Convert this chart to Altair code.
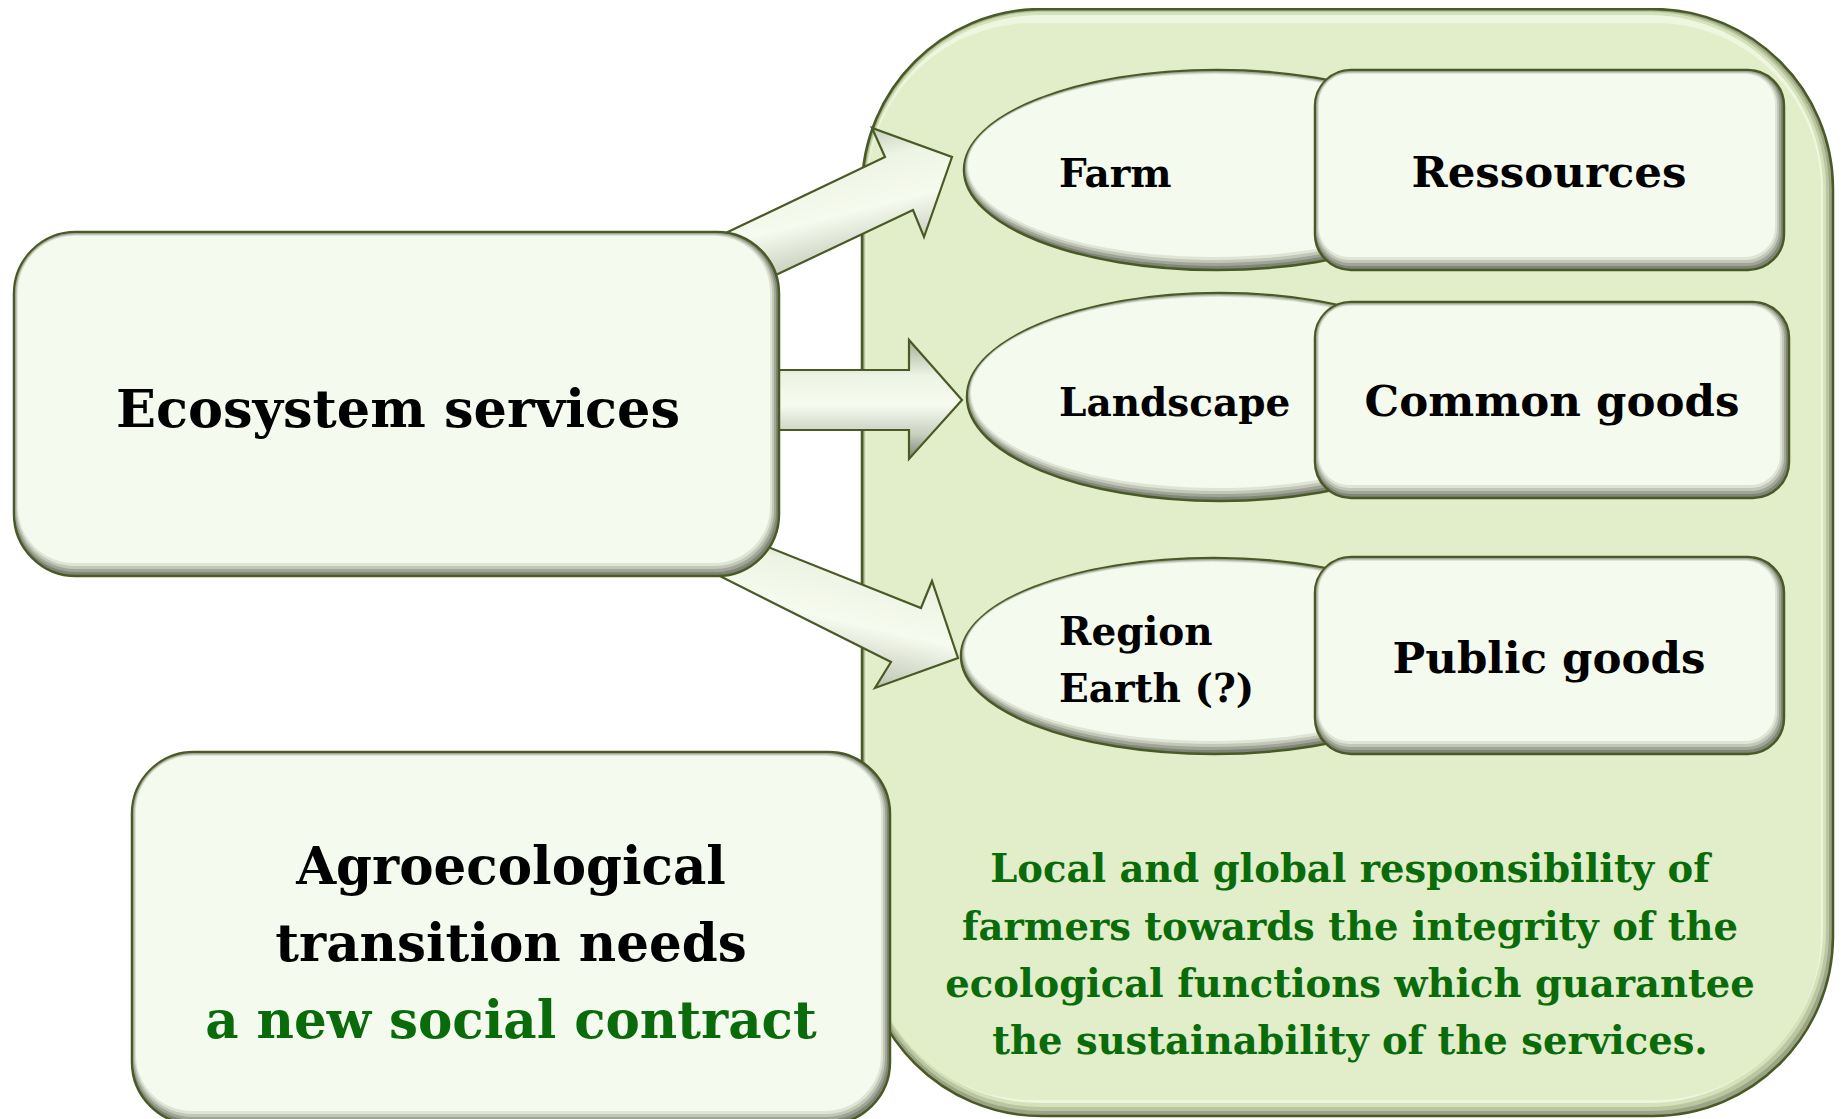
import altair as alt
import pandas as pd

# ---------------- reference geometry (reference pixel units) ----------------
REF_W, REF_H = 1843, 1119
MARGIN = 8
WIDTH = REF_W - 2 * MARGIN     # keep within the page width (no css down-scaling)
HEIGHT = REF_H - MARGIN
K = 1.0

# big green panel  (x1, y1, x2, y2, radius)
panel = [862, 9, 1833, 1116, 180]

# light boxes
box_names = ["Ecosystem", "Agro", "Ressources", "Common", "Public"]
box_x1 = [14, 132, 1315, 1315, 1315]
box_y1 = [232, 752, 70, 302, 557]
box_x2 = [779, 890, 1784, 1789, 1784]
box_y2 = [576, 1124, 270, 498, 754]
box_r = [62, 62, 36, 36, 36]

# ellipses
ell_cx = [1217, 1220, 1214]
ell_cy = [170, 397, 656]
ell_rx = [253, 253, 253]
ell_ry = [100, 104, 98]

# arrows (polygon vertices)
arrow_top_x = [690, 885, 872, 952, 924, 913, 740]
arrow_top_y = [250, 157, 128, 157, 237, 210, 292]
arrow_mid_x = [740, 909, 909, 962, 909, 909, 740]
arrow_mid_y = [370, 370, 340, 400, 459, 430, 430]
arrow_bot_x = [700, 921, 932, 958, 875, 891, 660]
arrow_bot_y = [520, 608, 581, 658, 688, 662, 546]

# texts
eco_text = ["Ecosystem services"]
eco_tx, eco_ty = [398], [427]
ell_text = ["Farm", "Landscape", "Region", "Earth (?)"]
ell_tx = [1059, 1059, 1059, 1059]
ell_ty = [187, 416, 645, 702]
goods_text = ["Ressources", "Common goods", "Public goods"]
goods_tx = [1549, 1552, 1549]
goods_ty = [187, 416, 673]
resp_text = ["Local and global responsibility of",
             "farmers towards the integrity of the",
             "ecological functions which guarantee",
             "the sustainability of the services."]
resp_tx = [1350, 1350, 1350, 1350]
resp_ty = [882, 940, 997, 1054]
agro_text = ["Agroecological", "transition needs", "a new social contract"]
agro_tx = [511, 511, 511]
agro_ty = [884, 961, 1038]
agro_col = ["#000000", "#000000", "#0a6b0a"]

# ---------------- styles ----------------
OUTLINE = "#4a5a26"
BOX_LIGHT = "#f4faed"
PANEL_FILL = "#e1eec9"
GREEN_TEXT = "#0a6b0a"
FONT = "DejaVu Serif"

xs = alt.Scale(domain=[MARGIN, MARGIN + WIDTH], range=[0, WIDTH], nice=False, zero=False)
ys = alt.Scale(domain=[MARGIN, MARGIN + HEIGHT], range=[0, HEIGHT], nice=False, zero=False)


def X(f="x"):
    return alt.X(f"{f}:Q", scale=xs, axis=None)


def Y(f="y"):
    return alt.Y(f"{f}:Q", scale=ys, axis=None)


layers = []

# panel with bevel
p_levels = [((0, 0, 0, 0), "#9aa486", True),
            ((2, 2, 4, 5), "#b9c6a0", False),
            ((3, 3, 7, 9), "#d3e2b8", False),
            ((4, 6, 10, 13), "#eef6e0", False),
            ((5, 14, 12, 16), PANEL_FILL, False)]
for (l, t, r, b), col, outl in p_levels:
    df = pd.DataFrame({"x": [panel[0] + l], "x2": [panel[2] - r],
                       "y": [panel[1] + t], "y2": [panel[3] - b]})
    kw = dict(fill=col, cornerRadius=panel[4] - max(l, t))
    if outl:
        kw.update(stroke=OUTLINE, strokeWidth=2.5)
    layers.append(alt.Chart(df).mark_rect(**kw).encode(
        x=X(), x2="x2:Q", y=Y(), y2="y2:Q"))

# arrows
arrow_defs = [(arrow_top_x, arrow_top_y, (0.3, 0, 0.7, 1)),
              (arrow_mid_x, arrow_mid_y, (0, 0, 0, 1)),
              (arrow_bot_x, arrow_bot_y, (0.7, 0, 0.3, 1))]
for ax, ay, (gx1, gy1, gx2, gy2) in arrow_defs:
    df = pd.DataFrame({"x": ax + [ax[0]], "y": ay + [ay[0]],
                       "o": list(range(len(ax) + 1))})
    grad = {"gradient": "linear", "x1": gx1, "y1": gy1, "x2": gx2, "y2": gy2,
            "stops": [{"offset": 0, "color": "#a9af9b"},
                      {"offset": 0.3, "color": "#eef4e4"},
                      {"offset": 0.55, "color": "#f6fbef"},
                      {"offset": 0.8, "color": "#c8cebd"},
                      {"offset": 1, "color": "#7b8174"}]}
    layers.append(alt.Chart(df).mark_line(
        fill=grad, stroke=OUTLINE, strokeWidth=2.2, strokeJoin="miter",
        interpolate="linear").encode(x=X(), y=Y(), order="o:Q"))

# bevel levels for boxes and ellipses: (left, top, right, bottom) insets
levels = [((0, 0, 0, 0), "#7f8577"),
          ((1, 1, 3, 4), "#a0a596"),
          ((2, 2, 5, 7), "#c2c7b8"),
          ((3, 3, 7, 10), "#dfe5d5"),
          ((4, 4, 9, 13), BOX_LIGHT)]


def box_layers(i):
    out = []
    for j, ((l, t, r, b), col) in enumerate(levels):
        df = pd.DataFrame({"x": [box_x1[i] + l], "x2": [box_x2[i] - r],
                           "y": [box_y1[i] + t], "y2": [box_y2[i] - b]})
        kw = dict(fill=col, cornerRadius=box_r[i] - j * 1.5)
        if j == 0:
            kw.update(stroke=OUTLINE, strokeWidth=2.5)
        out.append(alt.Chart(df).mark_rect(**kw).encode(
            x=X(), x2="x2:Q", y=Y(), y2="y2:Q"))
    return out


def ellipse_layers(i):
    out = []
    for j, ((l, t, r, b), col) in enumerate(levels):
        x1 = ell_cx[i] - ell_rx[i] + l
        x2 = ell_cx[i] + ell_rx[i] - r
        y1 = ell_cy[i] - ell_ry[i] + t
        y2 = ell_cy[i] + ell_ry[i] - b
        rx = (x2 - x1) / 2
        ry = (y2 - y1) / 2
        a = ry / rx
        path = f"M -1 0 A 1 {a:.4f} 0 1 1 1 0 A 1 {a:.4f} 0 1 1 -1 0 Z"
        df = pd.DataFrame({"x": [(x1 + x2) / 2], "y": [(y1 + y2) / 2]})
        kw = dict(shape=path, filled=True, fill=col, opacity=1,
                  size=(2 * rx * K) ** 2)
        if j == 0:
            kw.update(stroke=OUTLINE, strokeWidth=2.5)
        else:
            kw.update(strokeWidth=0)
        out.append(alt.Chart(df).mark_point(**kw).encode(x=X(), y=Y()))
    return out


# eco box and agro box
layers += box_layers(0)
layers += box_layers(1)
# ellipses then right boxes
for i in range(3):
    layers += ellipse_layers(i)
    layers += box_layers(2 + i)


def text_layer(texts, tx, ty, size, align, color):
    df = pd.DataFrame({"x": tx, "y": ty, "t": texts, "c": color})
    return alt.Chart(df).mark_text(
        font=FONT, fontWeight="bold", fontSize=size, align=align,
        baseline="alphabetic").encode(
        x=X(), y=Y(), text="t:N", color=alt.Color("c:N", scale=None))


layers.append(text_layer(eco_text, eco_tx, eco_ty, 52.5, "center", ["#000000"]))
layers.append(text_layer(ell_text, ell_tx, ell_ty, 39, "left", ["#000000"] * 4))
layers.append(text_layer(goods_text, goods_tx, goods_ty, 43.5, "center", ["#000000"] * 3))
layers.append(text_layer(resp_text, resp_tx, resp_ty, 38.5, "center", [GREEN_TEXT] * 4))
layers.append(text_layer(agro_text, agro_tx, agro_ty, 51.5, "center", agro_col))

chart = alt.layer(*layers).properties(
    width=WIDTH, height=HEIGHT, padding=0,
    autosize=alt.AutoSizeParams(type="none"),
).configure(background="white").configure_view(stroke=None, strokeWidth=0)

chart.save("out.html", embed_options={"renderer": "svg", "actions": False})
